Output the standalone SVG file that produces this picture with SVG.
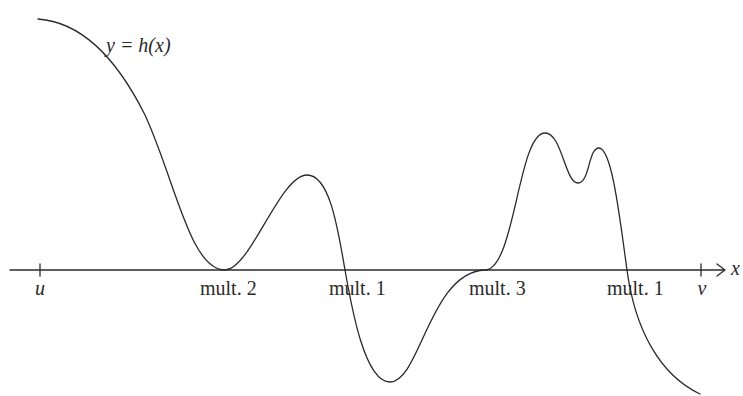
<svg xmlns="http://www.w3.org/2000/svg" width="743" height="396" viewBox="0 0 743 396">
<style>
.ln{fill:none;stroke:#2a2a2a;stroke-width:1.3;stroke-linecap:round;stroke-linejoin:round}
.t{font-family:'Liberation Serif','DejaVu Serif',serif;font-size:20px;fill:#2a2a2a}
.i{font-style:italic}
</style>
<rect width="743" height="396" fill="#fff"/>
<g id="connectors">
<path id="axis" class="ln" d="M10,270 L724,270"/>
<path id="arrowhead" class="ln" d="M717,264 L725,270 L717,276"/>
<path id="tick-u" class="ln" d="M40,264 L40,276"/>
<path id="tick-v" class="ln" d="M701,264 L701,276"/>
<path id="curve" class="ln" d="M38,19 C80,22 115,55 145,115 C175,180 190,270 225,270 C250,270 280,175 307,175 C330,175 338,230 345,270 C352,310 365,382 390,382 C420,382 430,272 485,270 C515,270 518,133 545,133 C562,133 565,183 578,183 C590,183 588,148 599,148 C612,148 620,220 627,270 C635,330 660,375 700,394"/>
</g>
<g id="label-curve"><text class="t i" x="106" y="52">y = h(x)</text></g>
<g id="label-u"><text class="t i" x="40" y="295" text-anchor="middle">u</text></g>
<g id="label-mult2"><text class="t" x="200" y="295">mult. 2</text></g>
<g id="label-mult1a"><text class="t" x="329" y="295">mult. 1</text></g>
<g id="label-mult3"><text class="t" x="469" y="295">mult. 3</text></g>
<g id="label-mult1b"><text class="t" x="607" y="295">mult. 1</text></g>
<g id="label-v"><text class="t i" x="702" y="295" text-anchor="middle">v</text></g>
<g id="label-x"><text class="t i" x="731" y="275">x</text></g>
</svg>
